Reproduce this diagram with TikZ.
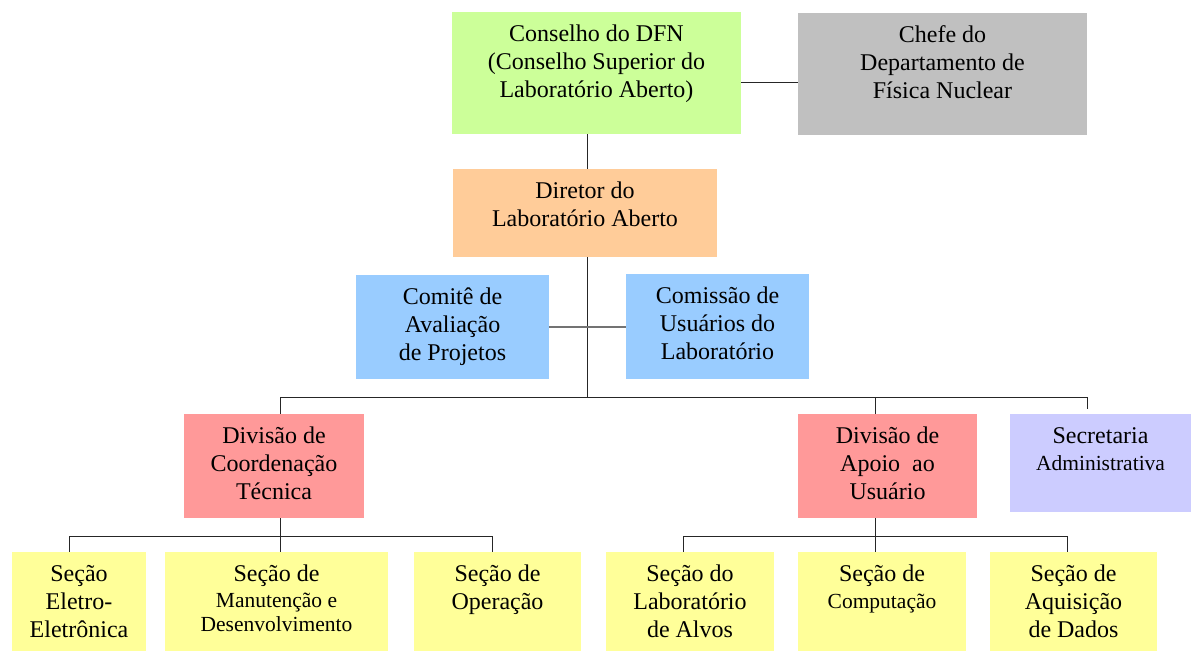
\documentclass[tikz,border=0pt]{standalone}
\usepackage{fontspec}
\setmainfont{Liberation Serif}
\definecolor{conselhogreen}{HTML}{CCFF99}
\definecolor{chefegray}{HTML}{C0C0C0}
\definecolor{diretororange}{HTML}{FFCC99}
\definecolor{comiteblue}{HTML}{99CCFF}
\definecolor{divisaored}{HTML}{FF9999}
\definecolor{secrlilac}{HTML}{CCCCFF}
\definecolor{secaoyellow}{HTML}{FFFF99}
\newcommand{\mainsz}{\fontsize{24}{28}\selectfont}
\newcommand{\smallsz}{\fontsize{21.5}{24.5}\selectfont}
\newcommand{\boxtxt}[3]{\parbox[t][#2][t]{#1}{\centering\vspace*{10pt}\strut #3}}
\begin{document}
\begin{tikzpicture}[x=1pt,y=-1pt,
    unit/.style={fill=#1, inner sep=0pt, font=\mainsz},
    link/.style={draw=black!85, line width=0.8pt},
    graylink/.style={draw=black!55, line width=1.6pt}]
  \useasboundingbox (0,0) rectangle (1191,651);
  \node[unit=conselhogreen] (cons) at (596.5,73)
    {\boxtxt{289pt}{122pt}{Conselho do DFN\\(Conselho Superior do\\Laboratório Aberto)}};
  \node[unit=chefegray] (chefe) at (942.5,74)
    {\boxtxt{289pt}{122pt}{Chefe do\\Departamento de\\Física Nuclear}};
  \node[unit=diretororange] (dir) at (585,213)
    {\boxtxt{264pt}{88pt}{Diretor do\\Laboratório Aberto}};
  \node[unit=comiteblue] (comite) at (452.5,327)
    {\boxtxt{193pt}{104pt}{Comitê de\\Avaliação\\de Projetos}};
  \node[unit=comiteblue] (comissao) at (717.5,326.5)
    {\boxtxt{183pt}{105pt}{Comissão de\\Usuários do\\Laboratório}};
  \node[unit=divisaored] (divtec) at (274,466)
    {\boxtxt{180pt}{104pt}{Divisão de\\Coordenação\\Técnica}};
  \node[unit=divisaored] (divapoio) at (887.5,466)
    {\boxtxt{179pt}{104pt}{Divisão de\\Apoio\ \ ao\\Usuário}};
  \node[unit=secrlilac] (secr) at (1100.5,463)
    {\boxtxt{181pt}{98pt}{Secretaria\\[-1pt]{\smallsz Administrativa}}};
  \node[unit=secaoyellow] (eletro) at (79,601.5)
    {\boxtxt{134pt}{99pt}{Seção\\Eletro-\\Eletrônica}};
  \node[unit=secaoyellow] (manut) at (276.5,601.5)
    {\boxtxt{223pt}{99pt}{Seção de\\[1pt]\smallsz Manutenção e\\Desenvolvimento}};
  \node[unit=secaoyellow] (operac) at (497.5,601.5)
    {\boxtxt{167pt}{99pt}{Seção de\\Operação}};
  \node[unit=secaoyellow] (alvos) at (690,601.5)
    {\boxtxt{168pt}{99pt}{Seção do\\Laboratório\\de Alvos}};
  \node[unit=secaoyellow] (comput) at (882,601.5)
    {\boxtxt{168pt}{99pt}{Seção de\\[-1pt]{\smallsz Computação}}};
  \node[unit=secaoyellow] (aquis) at (1073.5,601.5)
    {\boxtxt{167pt}{99pt}{Seção de\\Aquisição\\de Dados}};
  \coordinate (spine) at (587,397);
  \coordinate (busL) at (280,397);
  \coordinate (busB) at (875,397);
  \coordinate (busR) at (1087,397);
  \coordinate (tecL) at (69,536);
  \coordinate (tecM) at (280,536);
  \coordinate (tecR) at (492,536);
  \coordinate (apoL) at (683,536);
  \coordinate (apoM) at (875,536);
  \coordinate (apoR) at (1067,536);
  \begin{scope}[link]
    \draw ([yshift=-9pt]cons.east) to ([yshift=-9pt]cons.east -| chefe.west);
    \draw (cons.south -| spine) to (dir.north -| spine);
    \draw (dir.south -| spine) to (spine);
    \draw[graylink] (comite.east) to (comite.east -| comissao.west);
    \draw (busL) to (busR);
    \draw (busL) to (divtec.north -| busL);
    \draw (busB) to (divapoio.north -| busB);
    \draw (busR) to ([yshift=5pt]secr.north -| busR);
    \draw (divtec.south -| tecM) to (manut.north -| tecM);
    \draw (tecL) to (tecR);
    \draw (tecL) to (eletro.north -| tecL);
    \draw (tecR) to (operac.north -| tecR);
    \draw (divapoio.south -| apoM) to (comput.north -| apoM);
    \draw (apoL) to (apoR);
    \draw (apoL) to (alvos.north -| apoL);
    \draw (apoR) to (aquis.north -| apoR);
  \end{scope}
\end{tikzpicture}
\end{document}
